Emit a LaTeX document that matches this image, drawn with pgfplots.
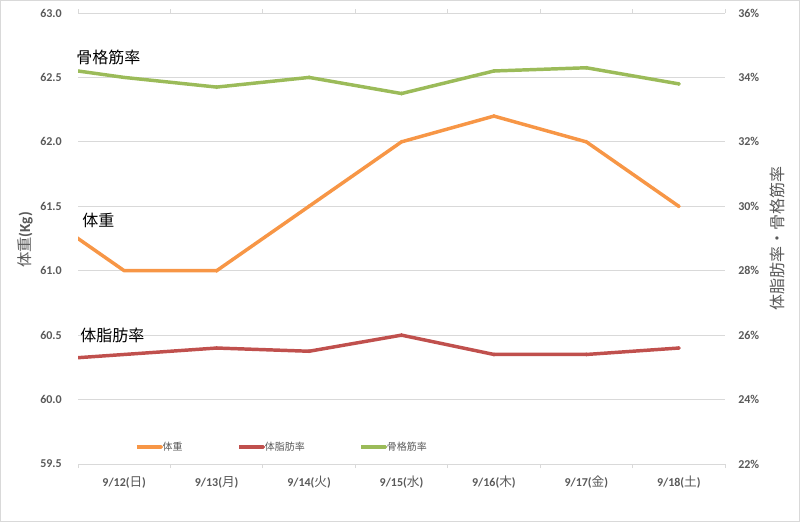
\documentclass[border=0pt]{standalone}
\usepackage{fontspec}
\usepackage{pgfplots}
\pgfplotsset{compat=1.18}
\setmainfont{Carlito}
\newfontfamily\cjk{Noto Sans CJK JP}
\newcommand{\cj}[1]{{\cjk\mdseries\fontsize{9.5}{11}\selectfont #1}}
\definecolor{cOr}{HTML}{F79646}
\definecolor{cRd}{HTML}{C0504D}
\definecolor{cGr}{HTML}{9BBB59}
\definecolor{tk}{HTML}{595959}
\definecolor{gl}{HTML}{D9D9D9}
\pgfplotsset{
  base/.style={width=485.25pt,height=338.25pt,scale only axis,
    at={(58.5pt,43.5pt)},anchor=south west,
    xmin=-0.5,xmax=6.5,axis line style={draw=none},
    /pgf/number format/assume math mode=true},
  sOr/.style={color=cOr,line width=2.6pt,line join=round,mark=*,mark size=1.3pt,
    mark options={solid,line width=0.4pt},mark indices={2,...,8}},
  sRd/.style={color=cRd,line width=2.6pt,line join=round,mark=*,mark size=1.3pt,
    mark options={solid,line width=0.4pt},mark indices={2,...,8}},
  sGr/.style={color=cGr,line width=2.6pt,line join=round,mark=*,mark size=1.3pt,
    mark options={solid,line width=0.4pt},mark indices={2,...,8}},
}
\begin{document}
\begin{tikzpicture}
\begin{axis}[base,
  ymin=59.5,ymax=63,
  ytick={59.5,60,60.5,61,61.5,62,62.5,63},
  yticklabels={59.5,60.0,60.5,61.0,61.5,62.0,62.5,63.0},
  ymajorgrids, grid style={gl,line width=0.75pt},
  major tick length=0pt,
  xtick={0,1,2,3,4,5,6},
  xticklabels={{9/12(\cj{日})},{9/13(\cj{月})},{9/14(\cj{火})},{9/15(\cj{水})},{9/16(\cj{木})},{9/17(\cj{金})},{9/18(\cj{土})}},
  extra x ticks={-0.5,0.5,1.5,2.5,3.5,4.5,5.5,6.5},
  extra x tick labels={},
  extra x tick style={xmajorgrids=false,major tick length=3pt,tick align=outside,
    tick style={gl,line width=0.75pt}},
  ticklabel style={font=\bfseries\fontsize{9}{11}\selectfont,text=tk,inner sep=0pt},
  yticklabel style={anchor=east,xshift=-12pt},
  xticklabel style={anchor=north,yshift=-9pt},
]
\addplot[sOr] coordinates {(-1,61.5) (0,61.0) (1,61.0) (2,61.5) (3,62.0) (4,62.2) (5,62.0) (6,61.5)};
\end{axis}
\begin{axis}[base,
  ymin=22,ymax=36,
  ytick={22,24,26,28,30,32,34,36},
  yticklabels={22\%,24\%,26\%,28\%,30\%,32\%,34\%,36\%},
  yticklabel pos=right,
  major tick length=0pt,
  xtick=\empty,
  ticklabel style={font=\bfseries\fontsize{9}{11}\selectfont,text=tk,inner sep=0pt},
  yticklabel style={anchor=west,xshift=9.75pt},
  legend columns=3,
  legend style={at={(0.088,0.0377)},anchor=west,draw=none,fill=none,inner sep=0pt,
    font=\cjk\fontsize{7.5}{9}\selectfont,text=tk,
    nodes={inner sep=0pt},
    /tikz/every even column/.append style={column sep=41pt}},
  legend image code/.code={\draw[#1] plot coordinates {(0pt,0pt) (9pt,0pt) (18pt,0pt)};},
]
\addlegendimage{sOr}
\addlegendentry{体重}
\addplot[sRd] coordinates {(-1,25.2) (0,25.4) (1,25.6) (2,25.5) (3,26.0) (4,25.4) (5,25.4) (6,25.6)};
\addlegendentry{体脂肪率}
\addplot[sGr] coordinates {(-1,34.4) (0,34.0) (1,33.7) (2,34.0) (3,33.5) (4,34.2) (5,34.3) (6,33.8)};
\addlegendentry{骨格筋率}
\end{axis}
\node[anchor=west,inner sep=0pt,font=\cjk\fontsize{12}{14}\selectfont] at (57pt,348.75pt) {骨格筋率};
\node[anchor=west,inner sep=0pt,font=\cjk\fontsize{12}{14}\selectfont] at (61.5pt,226.5pt) {体重};
\node[anchor=west,inner sep=0pt,font=\cjk\fontsize{12}{14}\selectfont] at (60pt,140.25pt) {体脂肪率};
\node[rotate=90,inner sep=0pt,text=tk,font=\fontsize{11.5}{13}\selectfont] at (18.75pt,211.5pt) {{\cjk 体重}\textbf{(Kg)}};
\node[rotate=90,inner sep=0pt,text=tk,font=\cjk\fontsize{12}{14}\selectfont] at (582.75pt,213pt) {体脂肪率・骨格筋率};
\draw[gl,line width=0.75pt] (0.375pt,0.375pt) rectangle (599.625pt,391.125pt);
\pgfresetboundingbox
\useasboundingbox (0,0) rectangle (600pt,391.5pt);
\end{tikzpicture}
\end{document}
